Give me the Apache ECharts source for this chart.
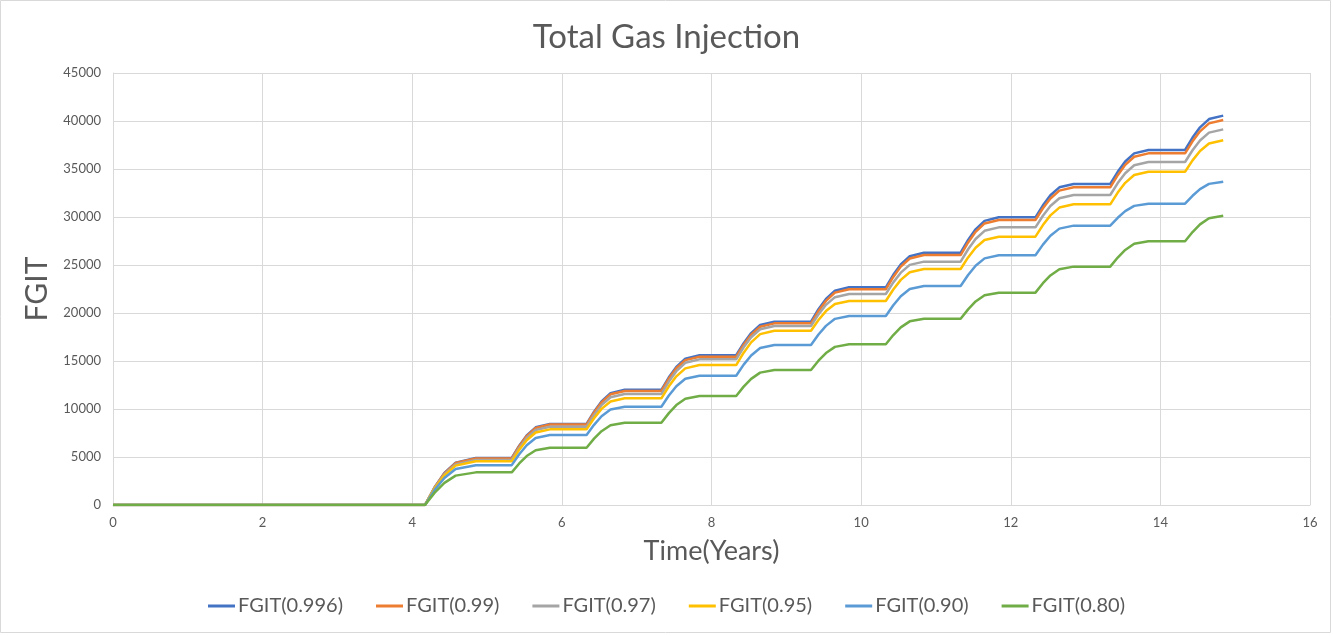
<!DOCTYPE html>
<html>
<head>
<meta charset="utf-8" />
<title>Total Gas Injection</title>
<script src="https://cdn.jsdelivr.net/npm/echarts@6/dist/echarts.min.js"></script>
<style>
  html,
  body {
    margin: 0;
    padding: 0;
    background: #fff;
  }
  #chart {
    width: 1333px;
    height: 636px;
  }
</style>
</head>
<body>
<div id="chart"></div>
<script>
// time in years, shared by every series
const timeYears = [
  0, 4.17, 4.3, 4.43, 4.58, 4.85,
  5.33, 5.43, 5.53, 5.65, 5.84,
  6.33, 6.43, 6.53, 6.65, 6.84,
  7.33, 7.43, 7.53, 7.65, 7.84,
  8.33, 8.43, 8.53, 8.65, 8.84,
  9.33, 9.43, 9.53, 9.65, 9.84,
  10.33, 10.43, 10.53, 10.65, 10.84,
  11.33, 11.43, 11.53, 11.65, 11.84,
  12.33, 12.43, 12.53, 12.65, 12.84,
  13.33, 13.43, 13.53, 13.65, 13.84,
  14.33, 14.43, 14.53, 14.65, 14.84,
];

const fgit0996 = [
  0, 0, 1860, 3330, 4410, 4900,
  4900, 6170, 7240, 8090, 8440,
  8440, 9720, 10790, 11640, 12000,
  12000, 13300, 14380, 15240, 15600,
  15600, 16860, 17910, 18750, 19100,
  19100, 20390, 21460, 22320, 22680,
  22680, 23980, 25060, 25920, 26280,
  26280, 27610, 28720, 29600, 29970,
  29970, 31220, 32260, 33090, 33440,
  33440, 34710, 35780, 36630, 36980,
  36980, 38270, 39340, 40200, 40560,
];

const fgit099 = [
  0, 0, 1840, 3300, 4370, 4850,
  4850, 6120, 7180, 8030, 8380,
  8380, 9640, 10690, 11530, 11880,
  11880, 13170, 14240, 15090, 15450,
  15450, 16700, 17740, 18570, 18920,
  18920, 20200, 21260, 22120, 22470,
  22470, 23760, 24830, 25680, 26040,
  26040, 27350, 28450, 29330, 29690,
  29690, 30910, 31930, 32750, 33090,
  33090, 34360, 35430, 36280, 36630,
  36630, 37880, 38920, 39750, 40100,
];

const fgit097 = [
  0, 0, 1790, 3200, 4230, 4700,
  4700, 5950, 6980, 7810, 8160,
  8160, 9380, 10400, 11220, 11560,
  11560, 12860, 13940, 14810, 15170,
  15170, 16420, 17470, 18300, 18650,
  18650, 19850, 20850, 21650, 21980,
  21980, 23190, 24200, 25010, 25350,
  25350, 26640, 27710, 28560, 28920,
  28920, 30130, 31140, 31950, 32290,
  32290, 33530, 34560, 35390, 35730,
  35730, 36950, 37970, 38790, 39130,
];

const fgit095 = [
  0, 0, 1730, 3090, 4100, 4550,
  4550, 5750, 6750, 7550, 7880,
  7880, 9040, 10010, 10790, 11110,
  11110, 12360, 13400, 14230, 14580,
  14580, 15870, 16940, 17800, 18160,
  18160, 19270, 20200, 20940, 21250,
  21250, 22450, 23450, 24250, 24580,
  24580, 25790, 26800, 27610, 27950,
  27950, 29160, 30170, 30980, 31320,
  31320, 32540, 33560, 34380, 34720,
  34720, 35900, 36880, 37660, 37990,
];

const fgit090 = [
  0, 0, 1580, 2820, 3740, 4150,
  4150, 5280, 6220, 6980, 7290,
  7290, 8350, 9240, 9950, 10240,
  10240, 11400, 12370, 13150, 13470,
  13470, 14620, 15580, 16350, 16670,
  16670, 17760, 18660, 19390, 19690,
  19690, 20810, 21750, 22500, 22810,
  22810, 23960, 24920, 25690, 26010,
  26010, 27120, 28050, 28790, 29100,
  29100, 29920, 30610, 31160, 31390,
  31390, 32210, 32900, 33450, 33680,
];

const fgit080 = [
  0, 0, 1290, 2310, 3060, 3400,
  3400, 4330, 5100, 5710, 5970,
  5970, 6910, 7690, 8310, 8570,
  8570, 9570, 10410, 11070, 11350,
  11350, 12330, 13140, 13790, 14060,
  14060, 15030, 15830, 16470, 16740,
  16740, 17700, 18500, 19130, 19400,
  19400, 20380, 21200, 21850, 22120,
  22120, 23100, 23910, 24560, 24830,
  24830, 25780, 26570, 27210, 27470,
  27470, 28430, 29230, 29870, 30140,
];

const seriesNames = ["FGIT(0.996)", "FGIT(0.99)", "FGIT(0.97)", "FGIT(0.95)", "FGIT(0.90)", "FGIT(0.80)"];
const seriesValues = [fgit0996, fgit099, fgit097, fgit095, fgit090, fgit080];
const colors = ["#4472C4", "#ED7D31", "#A5A5A5", "#FFC000", "#5B9BD5", "#70AD47"];

function initChart() {
  const chart = echarts.init(document.getElementById("chart"));
  const font = "Lato, 'Open Sans', sans-serif";

  const series = seriesValues.map((vals, i) => {
    return {
      name: seriesNames[i],
      type: "line",
      data: timeYears.map((t, j) => [t, vals[j]]),
      showSymbol: false,
      symbol: "none",
      lineStyle: { width: 2.5, color: colors[i] },
      itemStyle: { color: colors[i] },
    };
  });

  const option = {
    animation: false,
    color: colors,
    textStyle: { fontFamily: font },
    title: {
      text: "Total Gas Injection",
      left: "center",
      top: 16,
      textStyle: {
        fontFamily: font,
        fontWeight: "normal",
        fontSize: 33,
        color: "#595959",
      },
    },
    legend: {
      bottom: 15,
      left: "center",
      icon: "rect",
      itemWidth: 27,
      itemHeight: 3,
      itemGap: 33,
      textStyle: { fontFamily: font, fontSize: 20, color: "#595959", padding: [0, 0, 0, -2] },
      data: seriesNames,
    },
    grid: {
      left: 113,
      right: 23,
      top: 73,
      bottom: 131,
    },
    xAxis: {
      type: "value",
      min: 0,
      max: 16,
      interval: 2,
      name: "Time(Years)",
      nameLocation: "middle",
      nameGap: 33,
      nameTextStyle: { fontFamily: font, fontSize: 27, color: "#595959" },
      axisLine: { show: true, lineStyle: { color: "#d9d9d9", width: 1 } },
      axisTick: { show: false },
      axisLabel: { fontFamily: font, fontSize: 13, color: "#595959", margin: 11 },
      splitLine: { show: true, lineStyle: { color: "#d9d9d9", width: 1 } },
    },
    yAxis: {
      type: "value",
      min: 0,
      max: 45000,
      interval: 5000,
      name: "FGIT",
      nameLocation: "middle",
      nameGap: 52,
      nameTextStyle: { fontFamily: font, fontSize: 30, color: "#595959" },
      axisLine: { show: true, lineStyle: { color: "#d9d9d9", width: 1 } },
      axisTick: { show: false },
      axisLabel: {
        fontFamily: font,
        fontSize: 13,
        color: "#595959",
        margin: 12,
        formatter: (v) => String(v),
      },
      splitLine: { show: true, lineStyle: { color: "#d9d9d9", width: 1 } },
    },
    graphic: [
      {
        type: "rect",
        shape: { x: 0.5, y: 0.5, width: 1330, height: 632 },
        style: { fill: "none", stroke: "#d9d9d9", lineWidth: 1 },
        silent: true,
      },
    ],
    series: series,
  };

  chart.setOption(option);
}

initChart();
</script>
</body>
</html>
